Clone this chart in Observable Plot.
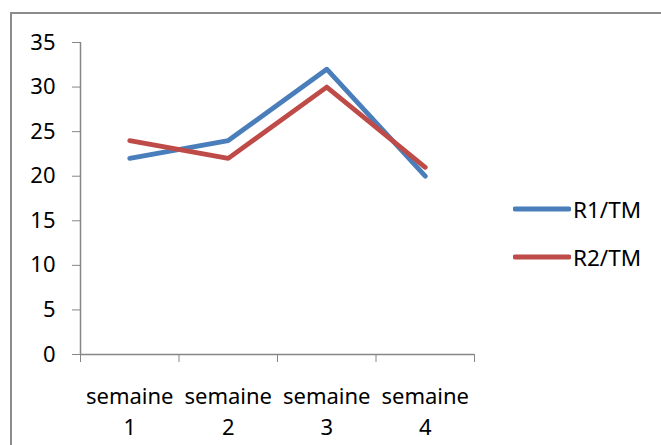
<!DOCTYPE html>
<html>
<head>
<meta charset="utf-8">
<script src="https://cdn.jsdelivr.net/npm/d3@7"></script>
<script src="https://cdn.jsdelivr.net/npm/@observablehq/plot@0.6"></script>
<style>
  html, body { margin: 0; padding: 0; background: #fff; overflow: hidden; }
  #wrap { position: relative; width: 661px; height: 445px; overflow: hidden; }
  #frame { position: absolute; left: 10px; top: 12px; width: 800px; height: 600px;
           border-top: 2px solid #8c8c8c; border-left: 2px solid #8c8c8c; }
  #chart { position: absolute; left: 0; top: 0; }
  #chart [aria-label="y-axis tick"], #chart [aria-label="x-axis tick"] { stroke: #868686; }
  #legend { position: absolute; left: 513px; top: 194px; font-family: "Noto Sans", sans-serif; font-size: 22.5px; color: #000; }
  .item { display: flex; align-items: center; height: 30px; margin-bottom: 18px; }
  .item svg { display: block; margin-right: 2px; }
</style>
</head>
<body>
<div id="wrap">
  <div id="frame"></div>
  <div id="chart"></div>
  <div id="legend"></div>
</div>
<script>
const weekIndex = [1, 2, 3, 4];
const weekLabels = ["semaine\n1", "semaine\n2", "semaine\n3", "semaine\n4"];
const seriesNames = ["R1/TM", "R2/TM"];
const r1Values = [22, 24, 32, 20];
const r2Values = [24, 22, 30, 21];
const seriesColors = ["#4a7ebb", "#be4b48"];
const yTicks = [0, 5, 10, 15, 20, 25, 30, 35];
const xBoundaries = [0.5, 1.5, 2.5, 3.5, 4.5];

const rows = [];
[r1Values, r2Values].forEach((vals, s) => {
  vals.forEach((v, i) => rows.push({ series: seriesNames[s], week: weekIndex[i], value: v }));
});

const chart = Plot.plot({
  width: 661,
  height: 445,
  marginLeft: 80,
  marginRight: 187,
  marginTop: 42,
  marginBottom: 91,
  style: { fontFamily: "Noto Sans, sans-serif", fontSize: "22px", background: "transparent", color: "#000" },
  x: { domain: [0.5, 4.5] },
  y: { domain: [0, 35] },
  color: { domain: seriesNames, range: seriesColors },
  marks: [
    Plot.axisY({ ticks: yTicks, tickSize: 8, tickPadding: 17, label: null, fontSize: 22 }),
    Plot.axisX({ ticks: xBoundaries, tickSize: 8, tickFormat: () => "", label: null }),
    Plot.ruleX([0.5], { y1: 0, y2: 35, stroke: "#868686", strokeWidth: 1.5 }),
    Plot.ruleY([0], { x1: 0.5, x2: 4.5, stroke: "#868686", strokeWidth: 1.5 }),
    Plot.text(weekIndex, { x: d => d, y: () => 0, text: (d, i) => weekLabels[i],
      lineAnchor: "top", dy: 28, lineHeight: 1.4, fontSize: 22, fill: "#000" }),
    Plot.line(rows, { x: "week", y: "value", z: "series", stroke: "series",
      strokeWidth: 4.8, strokeLinecap: "round", strokeLinejoin: "round" })
  ]
});
document.getElementById("chart").appendChild(chart);

const legend = document.getElementById("legend");
seriesNames.forEach((name, i) => {
  const item = document.createElement("div");
  item.className = "item";
  item.innerHTML = `<svg width="58" height="10"><line x1="2" y1="5" x2="56" y2="5" stroke="${seriesColors[i]}" stroke-width="4.8" stroke-linecap="round"/></svg><span>${name}</span>`;
  legend.appendChild(item);
});
</script>
</body>
</html>
